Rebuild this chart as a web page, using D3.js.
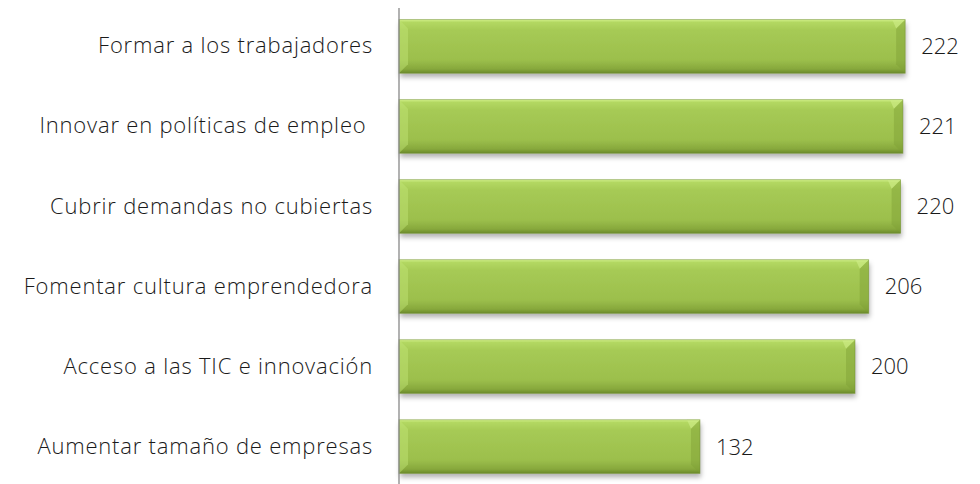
<!DOCTYPE html>
<html>
<head>
<meta charset="utf-8">
<script src="https://cdn.jsdelivr.net/npm/d3@7"></script>
<style>
  body { margin: 0; background: #fff; }
  text { font-family: "Open Sans", "Noto Sans", sans-serif; font-weight: 300; fill: #1a1a1a; }
</style>
</head>
<body>
<div id="chart"></div>
<script>
// data
var categories = ["Formar a los trabajadores", "Innovar en políticas de empleo ", "Cubrir demandas no cubiertas",
  "Fomentar cultura emprendedora", "Acceso a las TIC e innovación", "Aumentar tamaño de empresas"];
var values = [222, 221, 220, 206, 200, 132];

var W = 980, H = 484;
var axisX = 399;
var fontSize = 22;

var svg = d3.select('#chart').append('svg')
  .attr('width', W)
  .attr('height', H);

var defs = svg.append('defs');
var grad = defs.append('linearGradient').attr('id', 'barGrad')
  .attr('x1', 0).attr('y1', 0).attr('x2', 0).attr('y2', 1);
grad.append('stop').attr('offset', '0%').attr('stop-color', '#d2f08a');
grad.append('stop').attr('offset', '5%').attr('stop-color', '#b3d862');
grad.append('stop').attr('offset', '20%').attr('stop-color', '#a6ca55');
grad.append('stop').attr('offset', '75%').attr('stop-color', '#9cbf4c');
grad.append('stop').attr('offset', '92%').attr('stop-color', '#87a83c');
grad.append('stop').attr('offset', '100%').attr('stop-color', '#6b8a2b');

var shadow = defs.append('filter').attr('id', 'shadow')
  .attr('x', '-5%').attr('y', '-20%').attr('width', '110%').attr('height', '160%');
shadow.append('feDropShadow').attr('dx', 1).attr('dy', 4).attr('stdDeviation', 2.5)
  .attr('flood-color', '#000').attr('flood-opacity', 0.3);

var x = d3.scaleLinear().domain([0, 250]).range([axisX, axisX + 250 * 2.28]);
var y = d3.scaleBand().domain(categories).range([6, 487]).paddingInner(0.33).paddingOuter(0.17);

var bev = 9; // bevel depth

var g = svg.selectAll('g.bar')
  .data(values)
  .enter()
  .append('g')
  .attr('class', 'bar');

g.append('rect')
  .attr('x', axisX)
  .attr('y', (d, i) => y(categories[i]))
  .attr('width', d => x(d) - axisX)
  .attr('height', y.bandwidth())
  .attr('fill', 'url(#barGrad)')
  .attr('filter', 'url(#shadow)');

// left bevel (light)
g.append('path')
  .attr('d', (d, i) => {
    var y0 = y(categories[i]), h = y.bandwidth();
    return `M${axisX},${y0}L${axisX + bev},${y0 + bev}L${axisX + bev},${y0 + h - bev}L${axisX},${y0 + h}Z`;
  })
  .attr('fill', '#c4e678').attr('opacity', 0.45);
// right bevel (darker)
g.append('path')
  .attr('d', (d, i) => {
    var y0 = y(categories[i]), h = y.bandwidth(), x1 = x(d);
    return `M${x1},${y0}L${x1},${y0 + h}L${x1 - bev},${y0 + h - bev}L${x1 - bev},${y0 + bev}Z`;
  })
  .attr('fill', '#7f9f36').attr('opacity', 0.45);
// top-right corner highlight
g.append('path')
  .attr('d', (d, i) => {
    var y0 = y(categories[i]), x1 = x(d);
    return `M${x1 - bev - 4},${y0}L${x1},${y0}L${x1 - bev},${y0 + bev}Z`;
  })
  .attr('fill', '#d0ee8a').attr('opacity', 0.6);
// edge line
g.append('rect')
  .attr('x', axisX)
  .attr('y', (d, i) => y(categories[i]))
  .attr('width', d => x(d) - axisX)
  .attr('height', y.bandwidth())
  .attr('fill', 'none')
  .attr('stroke', '#6f8e30')
  .attr('stroke-opacity', 0.6)
  .attr('stroke-width', 0.8);

// value labels
g.append('text')
  .attr('x', d => x(d) + 16)
  .attr('y', (d, i) => y(categories[i]) + y.bandwidth() / 2)
  .attr('dy', '0.36em')
  .attr('font-size', fontSize)
  .text(d => d);

// category axis
var yAxis = d3.axisLeft(y).tickSize(0).tickPadding(26);
var ax = svg.append('g')
  .attr('transform', `translate(${axisX},0)`)
  .call(yAxis);
ax.select('.domain').remove();
ax.selectAll('text')
  .attr('font-size', fontSize)
  .style('font-family', '"Open Sans", "Noto Sans", sans-serif')
  .style('font-weight', 300)
  .style('letter-spacing', '0.8px')
  .style('white-space', 'pre')
  .attr('fill', '#1a1a1a');

svg.append('line')
  .attr('x1', axisX).attr('x2', axisX)
  .attr('y1', 8).attr('y2', H)
  .attr('stroke', '#888').attr('stroke-width', 1.3);
</script>
</body>
</html>
